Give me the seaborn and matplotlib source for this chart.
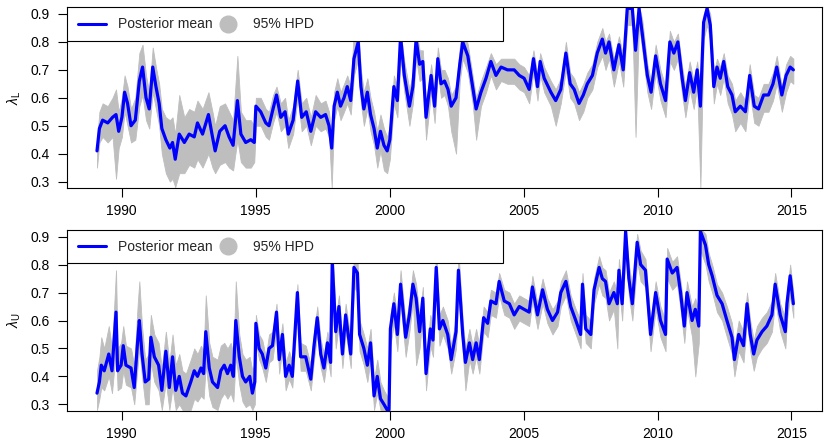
import matplotlib
matplotlib.use("Agg")
import numpy as np
import pandas as pd
import matplotlib.pyplot as plt
import seaborn as sns
from matplotlib.lines import Line2D
from matplotlib.patches import Rectangle

# ---- lambda_L (top panel): posterior mean and 95% HPD band
years_L = [1989.08, 1989.17, 1989.29, 1989.48, 1989.66, 1989.79, 1989.89, 1990.01, 1990.11, 1990.22,
           1990.35, 1990.51, 1990.66, 1990.78, 1990.91, 1991.03, 1991.16, 1991.28, 1991.40, 1991.50,
           1991.65, 1991.80, 1991.90, 1992.00, 1992.15, 1992.34, 1992.52, 1992.71, 1992.83, 1993.02,
           1993.24, 1993.39, 1993.49, 1993.66, 1993.86, 1994.01, 1994.16, 1994.32, 1994.45, 1994.63,
           1994.82, 1994.95, 1995.01, 1995.19, 1995.38, 1995.50, 1995.65, 1995.78, 1995.94, 1996.10,
           1996.22, 1996.40, 1996.57, 1996.72, 1996.89, 1997.06, 1997.24, 1997.43, 1997.61, 1997.74,
           1997.84, 1997.93, 1998.05, 1998.17, 1998.30, 1998.42, 1998.55, 1998.67, 1998.83, 1998.93,
           1999.04, 1999.17, 1999.29, 1999.42, 1999.54, 1999.66, 1999.79, 1999.91, 2000.01, 2000.16,
           2000.29, 2000.41, 2000.55, 2000.74, 2000.87, 2000.99, 2001.12, 2001.24, 2001.36, 2001.55,
           2001.68, 2001.80, 2001.92, 2002.05, 2002.18, 2002.30, 2002.48, 2002.62, 2002.73, 2002.92,
           2003.10, 2003.23, 2003.41, 2003.60, 2003.78, 2003.97, 2004.16, 2004.40, 2004.65, 2004.84,
           2005.02, 2005.21, 2005.37, 2005.52, 2005.62, 2005.77, 2006.02, 2006.20, 2006.39, 2006.58,
           2006.74, 2006.89, 2007.07, 2007.23, 2007.38, 2007.57, 2007.75, 2007.94, 2008.06, 2008.19,
           2008.37, 2008.56, 2008.72, 2008.87, 2009.06, 2009.18, 2009.31, 2009.43, 2009.62, 2009.76,
           2009.93, 2010.11, 2010.30, 2010.46, 2010.61, 2010.76, 2010.92, 2011.04, 2011.20, 2011.35,
           2011.48, 2011.60, 2011.72, 2011.85, 2011.97, 2012.10, 2012.22, 2012.34, 2012.47, 2012.62,
           2012.78, 2012.90, 2013.09, 2013.28, 2013.44, 2013.61, 2013.77, 2013.96, 2014.14, 2014.31,
           2014.45, 2014.64, 2014.80, 2014.95, 2015.07]
mean_L = [0.41, 0.49, 0.52, 0.51, 0.53, 0.54, 0.48, 0.53, 0.62, 0.58,
          0.50, 0.52, 0.66, 0.71, 0.60, 0.56, 0.71, 0.64, 0.58, 0.49,
          0.45, 0.42, 0.44, 0.38, 0.47, 0.44, 0.47, 0.46, 0.51, 0.47,
          0.54, 0.46, 0.41, 0.48, 0.50, 0.46, 0.43, 0.59, 0.47, 0.44,
          0.45, 0.44, 0.57, 0.55, 0.51, 0.50, 0.56, 0.61, 0.53, 0.55,
          0.47, 0.52, 0.66, 0.53, 0.55, 0.48, 0.55, 0.53, 0.54, 0.50,
          0.42, 0.57, 0.62, 0.57, 0.60, 0.64, 0.59, 0.74, 0.80, 0.64,
          0.56, 0.62, 0.54, 0.49, 0.42, 0.48, 0.43, 0.41, 0.45, 0.64,
          0.59, 0.82, 0.68, 0.57, 0.64, 0.81, 0.72, 0.73, 0.53, 0.68,
          0.57, 0.74, 0.65, 0.66, 0.63, 0.57, 0.60, 0.72, 0.80, 0.75,
          0.64, 0.56, 0.62, 0.67, 0.73, 0.68, 0.71, 0.70, 0.70, 0.68,
          0.67, 0.63, 0.74, 0.64, 0.73, 0.67, 0.62, 0.59, 0.63, 0.76,
          0.65, 0.63, 0.58, 0.61, 0.65, 0.68, 0.76, 0.81, 0.76, 0.80,
          0.70, 0.79, 0.70, 0.92, 0.92, 0.77, 0.92, 0.83, 0.68, 0.62,
          0.75, 0.65, 0.59, 0.80, 0.76, 0.80, 0.67, 0.59, 0.69, 0.62,
          0.70, 0.57, 0.87, 0.92, 0.86, 0.64, 0.71, 0.67, 0.73, 0.64,
          0.61, 0.55, 0.57, 0.55, 0.68, 0.57, 0.56, 0.61, 0.61, 0.65,
          0.71, 0.61, 0.68, 0.71, 0.70]
lo_L = [0.35, 0.44, 0.46, 0.44, 0.46, 0.31, 0.42, 0.46, 0.55, 0.50,
        0.44, 0.45, 0.57, 0.61, 0.52, 0.49, 0.62, 0.56, 0.50, 0.40,
        0.33, 0.30, 0.31, 0.28, 0.33, 0.33, 0.36, 0.35, 0.38, 0.35,
        0.40, 0.35, 0.33, 0.36, 0.37, 0.35, 0.34, 0.45, 0.37, 0.35,
        0.35, 0.37, 0.50, 0.50, 0.46, 0.45, 0.51, 0.55, 0.48, 0.50,
        0.42, 0.47, 0.60, 0.48, 0.50, 0.43, 0.50, 0.48, 0.49, 0.46,
        0.28, 0.52, 0.57, 0.52, 0.55, 0.58, 0.54, 0.68, 0.74, 0.58,
        0.50, 0.56, 0.48, 0.43, 0.35, 0.41, 0.34, 0.33, 0.38, 0.58,
        0.53, 0.74, 0.62, 0.50, 0.58, 0.74, 0.66, 0.67, 0.45, 0.62,
        0.51, 0.69, 0.60, 0.61, 0.57, 0.48, 0.40, 0.66, 0.74, 0.69,
        0.58, 0.45, 0.57, 0.62, 0.68, 0.63, 0.66, 0.65, 0.65, 0.63,
        0.62, 0.58, 0.69, 0.59, 0.68, 0.62, 0.57, 0.50, 0.58, 0.70,
        0.60, 0.58, 0.52, 0.55, 0.60, 0.63, 0.71, 0.75, 0.70, 0.74,
        0.64, 0.73, 0.64, 0.86, 0.86, 0.46, 0.86, 0.77, 0.62, 0.56,
        0.69, 0.59, 0.53, 0.73, 0.70, 0.74, 0.61, 0.53, 0.63, 0.56,
        0.64, 0.28, 0.81, 0.86, 0.80, 0.58, 0.65, 0.61, 0.67, 0.58,
        0.54, 0.48, 0.51, 0.48, 0.62, 0.51, 0.50, 0.55, 0.55, 0.59,
        0.65, 0.55, 0.62, 0.66, 0.65]
hi_L = [0.45, 0.55, 0.58, 0.57, 0.60, 0.63, 0.55, 0.60, 0.68, 0.64,
        0.56, 0.60, 0.76, 0.79, 0.68, 0.62, 0.78, 0.71, 0.65, 0.56,
        0.53, 0.52, 0.53, 0.47, 0.61, 0.53, 0.56, 0.55, 0.59, 0.56,
        0.62, 0.55, 0.50, 0.57, 0.58, 0.55, 0.52, 0.75, 0.55, 0.52,
        0.52, 0.50, 0.60, 0.60, 0.56, 0.55, 0.61, 0.64, 0.58, 0.60,
        0.52, 0.57, 0.70, 0.58, 0.60, 0.53, 0.61, 0.58, 0.59, 0.55,
        0.46, 0.62, 0.67, 0.62, 0.65, 0.68, 0.64, 0.85, 0.85, 0.70,
        0.62, 0.67, 0.60, 0.55, 0.48, 0.54, 0.49, 0.46, 0.50, 0.68,
        0.64, 0.84, 0.73, 0.63, 0.69, 0.85, 0.77, 0.77, 0.58, 0.72,
        0.62, 0.78, 0.70, 0.70, 0.67, 0.61, 0.64, 0.78, 0.87, 0.79,
        0.68, 0.60, 0.66, 0.71, 0.76, 0.72, 0.74, 0.74, 0.74, 0.72,
        0.71, 0.68, 0.77, 0.68, 0.76, 0.71, 0.66, 0.63, 0.67, 0.80,
        0.69, 0.67, 0.62, 0.65, 0.69, 0.72, 0.80, 0.85, 0.80, 0.83,
        0.74, 0.82, 0.75, 0.93, 0.93, 0.82, 0.93, 0.88, 0.72, 0.66,
        0.79, 0.70, 0.64, 0.84, 0.80, 0.83, 0.71, 0.64, 0.73, 0.66,
        0.73, 0.62, 0.90, 0.93, 0.90, 0.69, 0.74, 0.71, 0.76, 0.68,
        0.65, 0.59, 0.62, 0.59, 0.72, 0.61, 0.60, 0.65, 0.65, 0.69,
        0.75, 0.64, 0.72, 0.75, 0.74]

# ---- lambda_U (bottom panel)
years_U = [1989.08, 1989.17, 1989.24, 1989.35, 1989.52, 1989.64, 1989.79, 1989.85, 1989.98, 1990.06,
           1990.16, 1990.35, 1990.47, 1990.60, 1990.66, 1990.76, 1990.88, 1991.01, 1991.09, 1991.22,
           1991.38, 1991.50, 1991.65, 1991.78, 1991.90, 1992.02, 1992.15, 1992.27, 1992.40, 1992.58,
           1992.71, 1992.83, 1992.96, 1993.06, 1993.14, 1993.27, 1993.39, 1993.58, 1993.70, 1993.83,
           1993.95, 1994.07, 1994.17, 1994.26, 1994.39, 1994.51, 1994.63, 1994.78, 1994.88, 1994.97,
           1995.01, 1995.13, 1995.25, 1995.38, 1995.50, 1995.63, 1995.78, 1995.88, 1996.00, 1996.12,
           1996.25, 1996.37, 1996.56, 1996.68, 1996.87, 1997.06, 1997.18, 1997.30, 1997.43, 1997.55,
           1997.68, 1997.80, 1997.86, 1997.99, 1998.11, 1998.24, 1998.36, 1998.55, 1998.67, 1998.80,
           1998.88, 1999.04, 1999.17, 1999.29, 1999.42, 1999.54, 1999.66, 1999.79, 1999.91, 1999.98,
           2000.03, 2000.16, 2000.29, 2000.41, 2000.50, 2000.60, 2000.74, 2000.87, 2000.99, 2001.12,
           2001.24, 2001.36, 2001.52, 2001.62, 2001.74, 2001.86, 2001.99, 2002.17, 2002.30, 2002.48,
           2002.57, 2002.73, 2002.83, 2002.98, 2003.10, 2003.23, 2003.35, 2003.51, 2003.66, 2003.78,
           2003.97, 2004.09, 2004.28, 2004.47, 2004.65, 2004.84, 2005.02, 2005.21, 2005.33, 2005.52,
           2005.71, 2005.89, 2006.08, 2006.27, 2006.39, 2006.58, 2006.76, 2006.95, 2007.13, 2007.20,
           2007.32, 2007.51, 2007.63, 2007.82, 2007.94, 2008.06, 2008.19, 2008.37, 2008.50, 2008.56,
           2008.68, 2008.81, 2008.93, 2009.06, 2009.24, 2009.37, 2009.55, 2009.74, 2009.93, 2010.11,
           2010.30, 2010.36, 2010.55, 2010.73, 2010.86, 2011.00, 2011.10, 2011.29, 2011.41, 2011.54,
           2011.60, 2011.79, 2011.91, 2012.04, 2012.22, 2012.41, 2012.59, 2012.78, 2012.87, 2013.03,
           2013.21, 2013.34, 2013.46, 2013.59, 2013.71, 2013.90, 2014.08, 2014.27, 2014.39, 2014.58,
           2014.77, 2014.83, 2014.95, 2015.07]
mean_U = [0.34, 0.38, 0.44, 0.42, 0.48, 0.42, 0.63, 0.42, 0.44, 0.51,
          0.44, 0.43, 0.36, 0.53, 0.60, 0.48, 0.38, 0.39, 0.54, 0.47,
          0.44, 0.35, 0.49, 0.36, 0.47, 0.35, 0.40, 0.34, 0.33, 0.38,
          0.42, 0.40, 0.43, 0.41, 0.56, 0.43, 0.38, 0.36, 0.42, 0.44,
          0.41, 0.44, 0.40, 0.60, 0.47, 0.40, 0.38, 0.40, 0.34, 0.38,
          0.59, 0.50, 0.48, 0.43, 0.50, 0.51, 0.63, 0.46, 0.55, 0.40,
          0.44, 0.40, 0.70, 0.47, 0.47, 0.39, 0.51, 0.61, 0.48, 0.43,
          0.52, 0.45, 0.81, 0.56, 0.65, 0.48, 0.62, 0.48, 0.79, 0.77,
          0.55, 0.50, 0.44, 0.52, 0.33, 0.40, 0.32, 0.30, 0.28, 0.28,
          0.57, 0.66, 0.55, 0.73, 0.64, 0.54, 0.62, 0.73, 0.68, 0.56,
          0.68, 0.41, 0.57, 0.53, 0.79, 0.57, 0.60, 0.55, 0.46, 0.56,
          0.78, 0.55, 0.45, 0.52, 0.46, 0.52, 0.46, 0.61, 0.59, 0.67,
          0.66, 0.74, 0.67, 0.66, 0.62, 0.65, 0.64, 0.63, 0.72, 0.62,
          0.71, 0.64, 0.60, 0.63, 0.70, 0.74, 0.65, 0.60, 0.55, 0.73,
          0.57, 0.55, 0.71, 0.79, 0.75, 0.74, 0.66, 0.70, 0.66, 0.78,
          0.66, 0.92, 0.75, 0.66, 0.88, 0.80, 0.78, 0.55, 0.70, 0.60,
          0.55, 0.82, 0.77, 0.79, 0.70, 0.58, 0.70, 0.60, 0.64, 0.58,
          0.92, 0.87, 0.80, 0.76, 0.69, 0.66, 0.60, 0.54, 0.46, 0.55,
          0.51, 0.66, 0.55, 0.48, 0.53, 0.56, 0.58, 0.62, 0.73, 0.62,
          0.56, 0.66, 0.76, 0.66]
lo_U = [0.28, 0.32, 0.36, 0.35, 0.40, 0.34, 0.50, 0.35, 0.36, 0.42,
        0.37, 0.36, 0.30, 0.44, 0.50, 0.40, 0.30, 0.30, 0.45, 0.38,
        0.35, 0.28, 0.38, 0.28, 0.36, 0.28, 0.30, 0.28, 0.28, 0.28,
        0.32, 0.31, 0.33, 0.32, 0.44, 0.33, 0.29, 0.28, 0.32, 0.34,
        0.32, 0.34, 0.31, 0.47, 0.37, 0.31, 0.29, 0.30, 0.28, 0.30,
        0.52, 0.46, 0.43, 0.38, 0.45, 0.46, 0.57, 0.41, 0.50, 0.35,
        0.39, 0.36, 0.63, 0.42, 0.42, 0.35, 0.46, 0.55, 0.43, 0.38,
        0.47, 0.40, 0.72, 0.50, 0.59, 0.43, 0.56, 0.43, 0.72, 0.70,
        0.49, 0.44, 0.38, 0.46, 0.28, 0.34, 0.28, 0.28, 0.27, 0.27,
        0.51, 0.59, 0.49, 0.66, 0.57, 0.47, 0.56, 0.67, 0.44, 0.50,
        0.62, 0.35, 0.51, 0.47, 0.72, 0.51, 0.55, 0.50, 0.41, 0.50,
        0.70, 0.49, 0.35, 0.46, 0.41, 0.47, 0.41, 0.56, 0.54, 0.62,
        0.61, 0.69, 0.62, 0.61, 0.57, 0.60, 0.59, 0.58, 0.67, 0.57,
        0.66, 0.59, 0.55, 0.58, 0.65, 0.69, 0.60, 0.55, 0.50, 0.67,
        0.52, 0.50, 0.66, 0.73, 0.69, 0.68, 0.60, 0.64, 0.50, 0.72,
        0.60, 0.85, 0.69, 0.60, 0.81, 0.74, 0.72, 0.49, 0.64, 0.54,
        0.49, 0.75, 0.71, 0.73, 0.64, 0.52, 0.64, 0.54, 0.40, 0.52,
        0.85, 0.80, 0.74, 0.70, 0.63, 0.60, 0.54, 0.48, 0.40, 0.49,
        0.45, 0.60, 0.49, 0.42, 0.47, 0.50, 0.52, 0.56, 0.67, 0.56,
        0.50, 0.60, 0.69, 0.61]
hi_U = [0.42, 0.47, 0.54, 0.50, 0.58, 0.50, 0.78, 0.50, 0.52, 0.58,
        0.51, 0.50, 0.44, 0.66, 0.74, 0.58, 0.46, 0.48, 0.62, 0.55,
        0.52, 0.43, 0.56, 0.45, 0.55, 0.44, 0.48, 0.42, 0.41, 0.46,
        0.50, 0.48, 0.51, 0.49, 0.69, 0.52, 0.47, 0.46, 0.51, 0.52,
        0.50, 0.52, 0.48, 0.74, 0.55, 0.48, 0.46, 0.47, 0.42, 0.45,
        0.62, 0.55, 0.53, 0.47, 0.55, 0.56, 0.66, 0.51, 0.59, 0.45,
        0.49, 0.45, 0.73, 0.52, 0.51, 0.44, 0.56, 0.65, 0.53, 0.48,
        0.56, 0.50, 0.89, 0.61, 0.69, 0.53, 0.66, 0.53, 0.84, 0.83,
        0.60, 0.55, 0.50, 0.57, 0.39, 0.46, 0.38, 0.35, 0.33, 0.32,
        0.62, 0.70, 0.61, 0.78, 0.69, 0.59, 0.67, 0.78, 0.73, 0.61,
        0.72, 0.46, 0.62, 0.58, 0.86, 0.62, 0.65, 0.60, 0.51, 0.61,
        0.85, 0.60, 0.50, 0.57, 0.51, 0.57, 0.51, 0.65, 0.63, 0.71,
        0.70, 0.77, 0.71, 0.70, 0.66, 0.69, 0.68, 0.67, 0.76, 0.66,
        0.75, 0.68, 0.64, 0.67, 0.74, 0.78, 0.69, 0.64, 0.60, 0.77,
        0.62, 0.60, 0.75, 0.83, 0.79, 0.78, 0.70, 0.74, 0.70, 0.82,
        0.71, 0.93, 0.80, 0.72, 0.91, 0.85, 0.82, 0.60, 0.74, 0.65,
        0.60, 0.86, 0.81, 0.83, 0.74, 0.63, 0.74, 0.65, 0.68, 0.63,
        0.93, 0.91, 0.84, 0.80, 0.73, 0.70, 0.65, 0.59, 0.51, 0.60,
        0.56, 0.70, 0.60, 0.53, 0.58, 0.61, 0.63, 0.67, 0.77, 0.66,
        0.61, 0.70, 0.80, 0.70]

year_ticks = [1990, 1995, 2000, 2005, 2010, 2015]
value_ticks = [0.3, 0.4, 0.5, 0.6, 0.7, 0.8, 0.9]
legend_labels = ["Posterior mean", "95% HPD"]
panel_labels = [r"$\lambda_{\mathrm{L}}$", r"$\lambda_{\mathrm{U}}$"]

sns.set_theme(style="white")
plt.rcParams["font.family"] = ["Liberation Sans", "DejaVu Sans"]
plt.rcParams["mathtext.fontset"] = "custom"
plt.rcParams["mathtext.rm"] = "Liberation Sans"
plt.rcParams["mathtext.it"] = "Liberation Sans:italic"

BAND = "#BEBEBE"


def draw_panel(ax, years, mean, lo, hi, ylab):
    df = pd.DataFrame({"year": years, "mean": mean, "lo": lo, "hi": hi})
    ax.fill_between(df["year"], df["lo"], df["hi"], color=BAND, lw=0.6, edgecolor=BAND)
    sns.lineplot(data=df, x="year", y="mean", color="blue", lw=2.3,
                 sort=False, estimator=None, ax=ax)
    ax.set_xlim(1987.96, 2016.14)
    ax.set_ylim(0.276, 0.924)
    ax.set_xticks(year_ticks)
    ax.set_xticklabels([str(t) for t in year_ticks])
    ax.set_yticks(value_ticks)
    ax.set_yticklabels([f"{v:.1f}" for v in value_ticks])
    ax.tick_params(axis="both", which="both", direction="out", length=6.5, width=0.8,
                   color="black", labelsize=10, labelcolor="black", bottom=True, left=True)
    ax.tick_params(axis="y", pad=6)
    ax.tick_params(axis="x", pad=5)
    ax.set_xlabel("")
    ax.set_ylabel(ylab, fontsize=10, color="black")
    ax.yaxis.set_label_coords(-0.058, 0.5)
    for s in ax.spines.values():
        s.set_color("black")
        s.set_linewidth(0.8)

    # legend box (R style, horizontal)
    ax.add_patch(Rectangle((0, 0.815), 0.5775, 0.185, transform=ax.transAxes,
                           fill=True, facecolor="white", edgecolor="black", lw=0.8, zorder=5))
    handles = [Line2D([], [], color="blue", lw=2.2),
               Line2D([], [], color=BAND, marker="o", markersize=12, lw=0)]
    leg = ax.legend(handles, legend_labels, ncol=2, loc="center left",
                    bbox_to_anchor=(0.0, 0.905), frameon=False, borderaxespad=0,
                    borderpad=0.8, handlelength=2.0, handletextpad=0.85,
                    columnspacing=0.1, fontsize=10)
    leg.set_zorder(6)


fig = plt.figure(figsize=(8.3, 4.44), dpi=100)
ax_top = fig.add_axes([0.0807, 0.5759, 0.9097, 0.4077])
ax_bot = fig.add_axes([0.0807, 0.0743, 0.9097, 0.4077])

draw_panel(ax_top, years_L, mean_L, lo_L, hi_L, panel_labels[0])
draw_panel(ax_bot, years_U, mean_U, lo_U, hi_U, panel_labels[1])

fig.savefig("out.png", dpi=100)
